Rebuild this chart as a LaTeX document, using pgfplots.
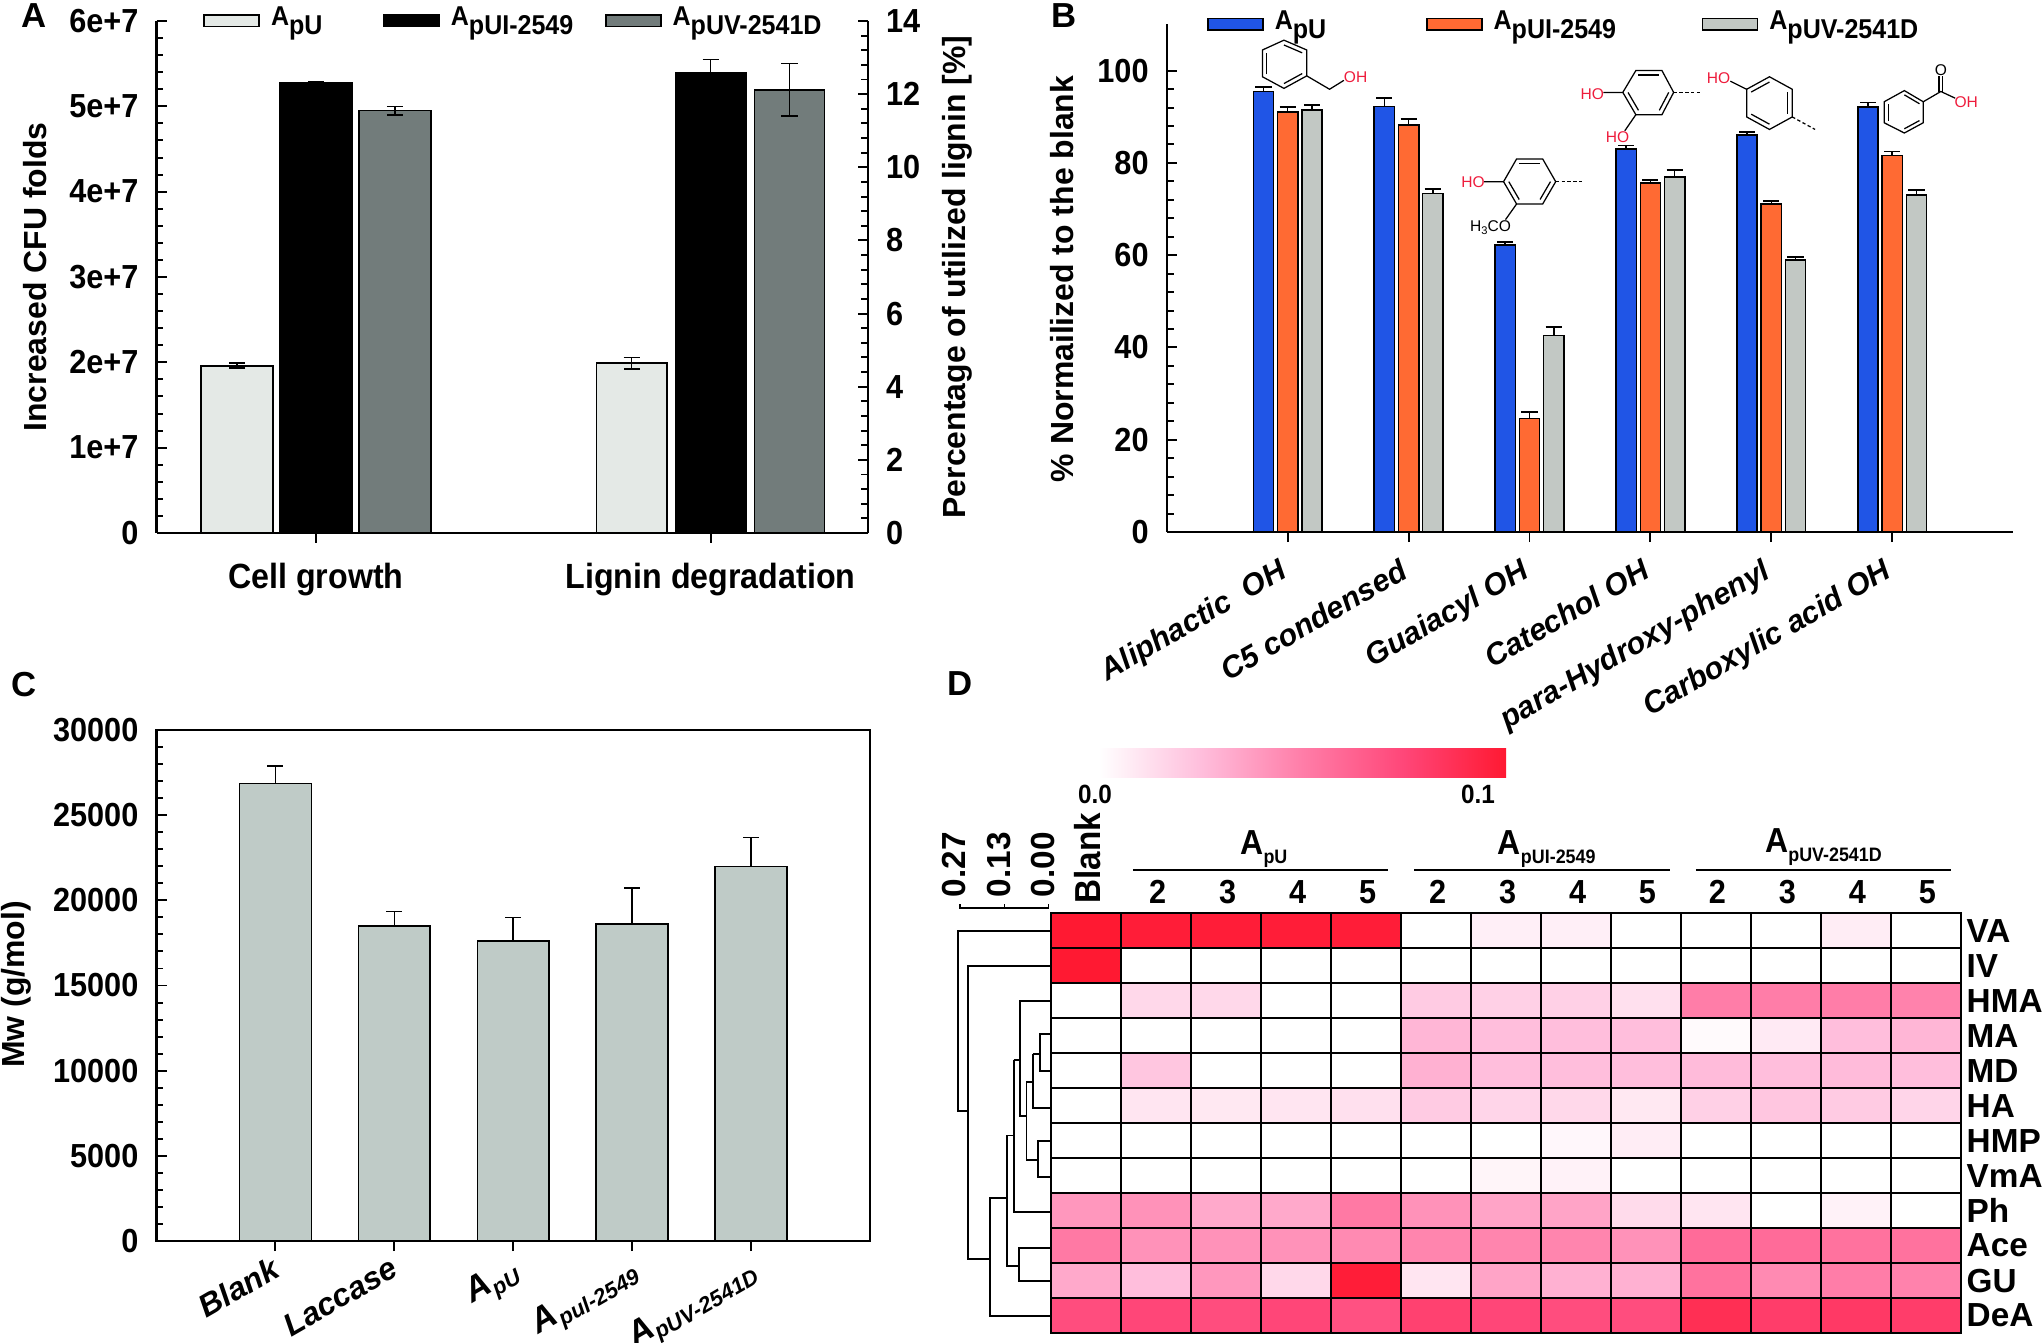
\documentclass[border=0pt]{standalone}
\usepackage{fontspec}
\usepackage{pgfplots}
\pgfplotsset{compat=1.18}
\usetikzlibrary{calc}
\setmainfont{Liberation Sans}
\newfontfamily\cond[FakeStretch=0.92]{Liberation Sans}
\def\U{0.36pt}
\newcommand\tf{\fontsize{12}{14}\selectfont\cond\bfseries}
\newcommand\lf{\fontsize{11.5}{13}\selectfont\bfseries}
\newcommand\legf{\fontsize{9.8}{11}\selectfont\cond\bfseries}
\newcommand\Lsub[1]{\hspace*{2pt}\raisebox{1.8pt}{A\raisebox{-0.65ex}{#1}}}
\newcommand\Hsub[1]{{\fontsize{12.5}{14}\selectfont A}\raisebox{-0.5ex}{\fontsize{7}{8}\selectfont #1}}
\newcommand\Isub[1]{{\fontsize{12.5}{14}\selectfont A}\raisebox{-0.35ex}{\fontsize{8}{9}\selectfont #1}}
\newcommand\ring[6]{%
  \coordinate (c) at ($(#1)!.5!(#4)$);
  \draw (#1)--(#2)--(#3)--(#4)--(#5)--(#6)--cycle;
  \draw ($(#1)!.2!(c)$)--($(#2)!.2!(c)$);
  \draw ($(#3)!.2!(c)$)--($(#4)!.2!(c)$);
  \draw ($(#5)!.2!(c)$)--($(#6)!.2!(c)$);}
\definecolor{aU}{HTML}{E4E9E6}
\definecolor{aV}{HTML}{727C7B}
\definecolor{bU}{HTML}{2055E6}
\definecolor{bI}{HTML}{FF6A33}
\definecolor{bV}{HTML}{C2C8C4}
\definecolor{cbar}{HTML}{BFCBC7}
\definecolor{chemred}{HTML}{EE1C3C}
\definecolor{hmA}{RGB}{255,190,220}
\definecolor{hmB}{RGB}{255,125,168}
\definecolor{hmC}{RGB}{255,70,120}
\definecolor{hmD}{RGB}{255,25,50}
\pgfdeclarehorizontalshading{hmbar}{100bp}{color(0bp)=(white);color(25bp)=(white);color(37.5bp)=(hmA);color(50bp)=(hmB);color(62.5bp)=(hmC);color(75bp)=(hmD);color(100bp)=(hmD)}
\pgfplotsset{
  panel/.style={scale only axis, anchor=south west,
    axis line style={line width=.8pt},
    tick style={black, line width=.7pt},
    major tick length=3.6pt, minor tick length=2.5pt,
    tick align=inside, minor y tick num=4,
    tick label style={font=\tf},
    /pgf/number format/assume math mode=true,
    /pgf/number format/1000 sep={},
    scaled y ticks=false},
  bar/.style={ybar, bar shift=0pt, draw=black, line width=.6pt, forget plot,
    error bars/y explicit,
    error bars/error bar style={black, line width=.6pt},
    error bars/error mark options={black, line width=.6pt, mark size=2.9pt, rotate=90}},
  swatch/.style={legend image code/.code={\draw[##1,draw=black,line width=.6pt] (0pt,-2.1pt) rectangle (19.8pt,2.1pt);}},
  leg/.style={legend columns=3, legend cell align=left,
    legend style={draw=none, fill=none, inner sep=0pt, font=\legf, anchor=north west,
      /tikz/every even column/.style={column sep=0pt}}},
}
\begin{document}
\begin{tikzpicture}
\path[use as bounding box] (0,0) rectangle (2042*\U,-1343*\U);

% panel A, left scale
\begin{axis}[panel, at={(156.5*\U,-533*\U)}, width=711.5*\U, height=512*\U,
  xmin=-0.404, xmax=1.399, ymin=0, ymax=6e7,
  axis x line*=bottom, axis y line*=left,
  xtick={0,1}, xticklabels={Cell growth,Lignin degradation},
  xtick align=outside,
  xticklabel style={font=\fontsize{12.6}{15}\selectfont\cond\bfseries, yshift=-3.7pt},
  ytick={0,1e7,2e7,3e7,4e7,5e7,6e7}, yticklabels={0,1e+7,2e+7,3e+7,4e+7,5e+7,6e+7},
  yticklabel style={xshift=-3pt},
  ylabel={\lf Increased CFU folds}, y label style={at={(axis description cs:-0.171,0.5)},anchor=center},
  leg, legend style={at={(axis description cs:0.065,1.04)}},
]
\addlegendimage{swatch,fill=aU}\addlegendentry{\makebox[112\dimexpr\U\relax][l]{\Lsub{pU}}}
\addlegendimage{swatch,fill=black}\addlegendentry{\makebox[154\dimexpr\U\relax][l]{\Lsub{pUI-2549}}}
\addlegendimage{swatch,fill=aV}\addlegendentry{\Lsub{pUV-2541D}}
\addplot[bar, bar width=0.183, fill=aU, error bars/y dir=both] coordinates {(-0.2,1.96e7) +- (0,0.03e7)};
\addplot[bar, bar width=0.183, fill=black, error bars/y dir=both] coordinates {(0,5.27e7) +- (0,0.02e7)};
\addplot[bar, bar width=0.183, fill=aV, error bars/y dir=both] coordinates {(0.2,4.95e7) +- (0,0.05e7)};
\end{axis}

% panel A, right scale
\begin{axis}[panel, at={(156.5*\U,-533*\U)}, width=711.5*\U, height=512*\U,
  xmin=-0.404, xmax=1.399, ymin=0, ymax=14,
  axis x line=none, axis y line*=right,
  ytick={0,2,...,14}, yticklabel style={xshift=3pt},
  ylabel={\lf Percentage of utilized lignin [\%]},
  y label style={at={(axis description cs:1.126,0.5)},anchor=center},
]
\addplot[bar, bar width=0.178, fill=aU, error bars/y dir=both] coordinates {(0.8,4.64) +- (0,0.16)};
\addplot[bar, bar width=0.178, fill=black, error bars/y dir=both] coordinates {(1,12.57) +- (0,0.38)};
\addplot[bar, bar width=0.178, fill=aV, error bars/y dir=both] coordinates {(1.2,12.12) +- (0,0.72)};
\end{axis}

% panel B
\begin{axis}[panel, at={(1166.7*\U,-532*\U)}, width=846.5*\U, height=507.5*\U,
  xmin=-1, xmax=6, ymin=0, ymax=110,
  axis x line*=bottom, axis y line*=left,
  xtick={0,...,5},
  xticklabels={Aliphactic~~OH,C5 condensed,Guaiacyl OH,Catechol OH,para-Hydroxy-phenyl,Carboxylic acid OH},
  xtick align=outside,
  xticklabel style={font=\fontsize{11}{13}\selectfont\bfseries\itshape, rotate=30, anchor=north east, xshift=-2.5pt, yshift=0.5pt},
  ytick={0,20,...,100}, yticklabel style={xshift=-3pt},
  ylabel={\lf \% Normailized to the blank},
  y label style={at={(axis description cs:-0.124,0.4985)},anchor=center},
  leg, legend style={at={(axis description cs:0.047,1.04)}},
]
\addlegendimage{swatch,fill=bU}\addlegendentry{\makebox[151\dimexpr\U\relax][l]{\Lsub{pU}}}
\addlegendimage{swatch,fill=bI}\addlegendentry{\makebox[208\dimexpr\U\relax][l]{\Lsub{pUI-2549}}}
\addlegendimage{swatch,fill=bV}\addlegendentry{\Lsub{pUV-2541D}}
\addplot[bar, bar width=0.167, fill=bU, error bars/y dir=plus] coordinates {
  (-0.2,95.5) +- (0,0.9) (0.8,92.2) +- (0,1.8) (1.8,62.2) +- (0,0.6)
  (2.8,83.0) +- (0,0.8) (3.8,86.0) +- (0,0.7) (4.8,92.1) +- (0,1.0)};
\addplot[bar, bar width=0.167, fill=bI, error bars/y dir=plus] coordinates {
  (0,91.1) +- (0,1.0) (1,88.2) +- (0,1.3) (2,24.6) +- (0,1.4)
  (3,75.7) +- (0,0.6) (4,71.1) +- (0,0.7) (5,81.6) +- (0,0.9)};
\addplot[bar, bar width=0.167, fill=bV, error bars/y dir=plus] coordinates {
  (0.2,91.4) +- (0,1.2) (1.2,73.4) +- (0,1.0) (2.2,42.6) +- (0,1.8)
  (3.2,76.9) +- (0,1.5) (4.2,59.0) +- (0,0.6) (5.2,73.1) +- (0,1.0)};
\end{axis}

% panel C
\begin{axis}[panel, at={(156.5*\U,-1241*\U)}, width=713.5*\U, height=511*\U,
  xmin=-1, xmax=5, ymin=0, ymax=30000,
  xtick={0,...,4}, xtick pos=lower, ytick pos=left,
  xticklabels={Blank,Laccase,\Isub{pU},\Isub{pul-2549},\Isub{pUV-2541D}},
  xtick align=outside,
  xticklabel style={font=\fontsize{11.4}{13}\selectfont\bfseries\itshape, rotate=30, anchor=north east, xshift=1pt, yshift=3pt},
  ytick={0,5000,...,30000}, yticklabel style={xshift=-3pt},
  ylabel={\lf Mw (g/mol)},
  y label style={at={(axis description cs:-0.196,0.502)},anchor=center},
]
\addplot[bar, bar width=0.604, fill=cbar, error bars/y dir=plus] coordinates {
  (0,26860) +- (0,1020) (1,18480) +- (0,870) (2,17610) +- (0,1380)
  (3,18600) +- (0,2120) (4,21980) +- (0,1710)};
\end{axis}

% panel D heat map, values as share of the colour bar range
\begin{axis}[scale only axis, anchor=south west, at={(1051.3*\U,-1333*\U)}, width=909.7*\U, height=419.6*\U,
  xmin=-0.5, xmax=12.5, ymin=-0.5, ymax=11.5, y dir=reverse,
  axis on top, axis line style={line width=.7pt},
  xtick={0,...,12}, xticklabel pos=top, xtick pos=top,
  xticklabels={\rotatebox{90}{\fontsize{13}{15}\selectfont Blank},2,3,4,5,2,3,4,5,2,3,4,5},
  ytick={0,...,11}, yticklabel pos=right, ytick pos=right,
  yticklabels={VA,IV,HMA,MA,MD,HA,HMP,VmA,Ph,Ace,GU,DeA},
  major tick length=0pt,
  xticklabel style={font=\tf, xshift=0.5pt},
  yticklabel style={font=\fontsize{12}{14}\selectfont\bfseries, xshift=-1.5pt},
  colormap={heat}{rgb255(0)=(255,255,255) rgb255(1)=(255,190,220) rgb255(2)=(255,125,168) rgb255(3)=(255,70,120) rgb255(4)=(255,25,50)},
  point meta min=0, point meta max=1,
]
\addplot[matrix plot, mesh/cols=13, point meta=explicit, draw=black, line width=.7pt] coordinates {
(0,0)[1] (1,0)[.98] (2,0)[.98] (3,0)[.98] (4,0)[.98] (5,0)[0] (6,0)[.06] (7,0)[.06] (8,0)[0] (9,0)[0] (10,0)[0] (11,0)[.07] (12,0)[0]
(0,1)[1] (1,1)[0] (2,1)[0] (3,1)[0] (4,1)[0] (5,1)[0] (6,1)[0] (7,1)[0] (8,1)[0] (9,1)[0] (10,1)[0] (11,1)[0] (12,1)[0]
(0,2)[0] (1,2)[.15] (2,2)[.15] (3,2)[0] (4,2)[0] (5,2)[.2] (6,2)[.18] (7,2)[.18] (8,2)[.12] (9,2)[.5] (10,2)[.5] (11,2)[.5] (12,2)[.48]
(0,3)[0] (1,3)[0] (2,3)[0] (3,3)[0] (4,3)[0] (5,3)[.28] (6,3)[.25] (7,3)[.25] (8,3)[.25] (9,3)[.02] (10,3)[.08] (11,3)[.25] (12,3)[.28]
(0,4)[0] (1,4)[.22] (2,4)[0] (3,4)[0] (4,4)[0] (5,4)[.3] (6,4)[.25] (7,4)[.25] (8,4)[.25] (9,4)[.26] (10,4)[.25] (11,4)[.26] (12,4)[.25]
(0,5)[0] (1,5)[.1] (2,5)[.09] (3,5)[.1] (4,5)[.12] (5,5)[.2] (6,5)[.16] (7,5)[.15] (8,5)[.09] (9,5)[.18] (10,5)[.22] (11,5)[.2] (12,5)[.16]
(0,6)[0] (1,6)[0] (2,6)[0] (3,6)[0] (4,6)[0] (5,6)[0] (6,6)[0] (7,6)[.03] (8,6)[.07] (9,6)[0] (10,6)[0] (11,6)[0] (12,6)[0]
(0,7)[0] (1,7)[0] (2,7)[0] (3,7)[0] (4,7)[0] (5,7)[0] (6,7)[.04] (7,7)[.05] (8,7)[0] (9,7)[0] (10,7)[0] (11,7)[0] (12,7)[0]
(0,8)[.4] (1,8)[.42] (2,8)[.33] (3,8)[.33] (4,8)[.52] (5,8)[.42] (6,8)[.35] (7,8)[.35] (8,8)[.14] (9,8)[.1] (10,8)[0] (11,8)[.05] (12,8)[0]
(0,9)[.52] (1,9)[.42] (2,9)[.42] (3,9)[.42] (4,9)[.45] (5,9)[.47] (6,9)[.47] (7,9)[.47] (8,9)[.42] (9,9)[.58] (10,9)[.58] (11,9)[.55] (12,9)[.55]
(0,10)[.33] (1,10)[.25] (2,10)[.4] (3,10)[.15] (4,10)[.98] (5,10)[.1] (6,10)[.35] (7,10)[.3] (8,10)[.3] (9,10)[.55] (10,10)[.45] (11,10)[.5] (12,10)[.48]
(0,11)[.72] (1,11)[.75] (2,11)[.72] (3,11)[.75] (4,11)[.7] (5,11)[.78] (6,11)[.75] (7,11)[.72] (8,11)[.72] (9,11)[.88] (10,11)[.8] (11,11)[.82] (12,11)[.8]
};
\end{axis}

% panel D dendrogram, x and y as read from the crop
\begin{axis}[scale only axis, anchor=south west, at={(930*\U,-1333*\U)}, width=121.3*\U, height=419.6*\U,
  xmin=0, xmax=171, ymin=552, ymax=1544, y dir=reverse, hide axis, clip=false, unbounded coords=jump]
\addplot[black, line width=.7pt] coordinates {
 (171,593)(40,593)(40,1018)(53,1018) (0,nan)
 (171,676)(53,676)(53,1368)(84,1368) (0,nan)
 (171,1503)(84,1503)(84,1225)(108,1225) (0,nan)
 (108,1077)(108,1385)(125,1385) (0,nan)
 (171,1343)(125,1343)(125,1420)(171,1420) (0,nan)
 (108,1077)(118,1077) (0,nan)
 (118,898)(118,1258)(171,1258) (0,nan)
 (118,898)(127,898) (0,nan)
 (171,760)(127,760)(127,1030)(136,1030) (0,nan)
 (136,950)(136,1135)(152,1135) (0,nan)
 (171,1090)(152,1090)(152,1175)(171,1175) (0,nan)
 (136,950)(145,950) (0,nan)
 (145,885)(145,1013)(171,1013) (0,nan)
 (145,885)(155,885) (0,nan)
 (171,838)(155,838)(155,925)(171,925) (0,nan)
 (42,530)(42,540)(167,540)(167,530) (0,nan)
 (105,530)(105,540)
};
\end{axis}

% annotations, in pixels of the picture
\begin{scope}[x=\U,y=-\U]
\node[font=\fontsize{12.5}{14}\selectfont\bfseries] at (34,16) {A};
\node[font=\fontsize{12.5}{14}\selectfont\bfseries] at (1064,16) {B};
\node[font=\fontsize{12.5}{14}\selectfont\bfseries] at (24,685) {C};
\node[font=\fontsize{12.5}{14}\selectfont\bfseries] at (960,684) {D};
\shade[shading=hmbar] (1099,748) rectangle (1506,777);
\node[font=\fontsize{9.5}{11}\selectfont\cond\bfseries] at (1095,794) {0.0};
\node[font=\fontsize{9.5}{11}\selectfont\cond\bfseries] at (1478,794) {0.1};
\end{scope}

% panel D group marks, coordinates as read from the crop
\begin{scope}[shift={(930*\U,-680*\U)}, x=\U/1.41, y=-\U/2.365]
\foreach \a/\b in {286/646,683/1043,1080/1440} \draw[line width=.7pt] (\a,450)--(\b,450);
\node[anchor=base west,inner sep=0pt,font=\tf] at (437,413) {\Hsub{pU}};
\node[anchor=base west,inner sep=0pt,font=\tf] at (800,413) {\Hsub{pUI-2549}};
\node[anchor=base west,inner sep=0pt,font=\tf] at (1177,408) {\Hsub{pUV-2541D}};
\foreach \t/\x in {0.27/35,0.13/98,0.00/160}
  \node[rotate=90,anchor=base west,inner sep=0pt,font=\fontsize{12}{14}\selectfont\bfseries] at (\x+15,515) {\t};
\end{scope}

% panel B structures, coordinates as read from the crop
\begin{scope}[shift={(1020*\U,0)}, x=\U/1.534, y=-\U/2.24, line width=.45pt,
  chem/.style={font=\fontsize{5.6}{7}\selectfont, inner sep=0pt},
  red/.style={chem, text=chemred},
  bond/.style={dash pattern=on 1.2pt off .9pt}]
\ring{405,90}{440,112}{440,170}{405,198}{372,172}{372,112}
\draw (440,170)--(475,200)--(497,180);
\node[red] at (515,173) {OH};
\ring{762,356}{802,356}{822,407}{802,457}{762,457}{742,407}
\draw (742,407)--(712,407) (762,457)--(745,492);
\draw[bond] (822,407)--(862,407);
\node[red] at (695,409) {HO};
\node[chem] at (722,510) {H\raisebox{-.3ex}{\fontsize{4}{5}\selectfont 3}CO};
\ring{945,158}{985,158}{1003,207}{985,257}{945,257}{925,207}
\draw (925,207)--(895,207) (945,257)--(928,293);
\draw[bond] (1003,207)--(1043,207);
\node[red] at (878,210) {HO};
\node[red] at (917,308) {HO};
\ring{1115,200}{1150,172}{1185,200}{1185,262}{1150,290}{1115,262}
\draw (1115,200)--(1090,182);
\draw[bond] (1185,262)--(1220,290);
\node[red] at (1072,175) {HO};
\ring{1357,203}{1386,228}{1386,275}{1357,298}{1326,275}{1326,228}
\draw (1386,228)--(1413,205)--(1435,220);
\draw (1410,205)--(1410,170) (1416,205)--(1416,170);
\node[chem] at (1413,157) {O};
\node[red] at (1452,229) {OH};
\end{scope}
\end{tikzpicture}
\end{document}
